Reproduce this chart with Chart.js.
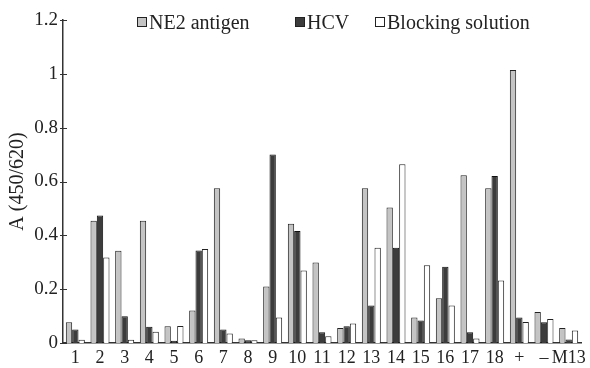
<!DOCTYPE html>
<html lang="en">
<head>
    <meta charset="UTF-8">
    <title>A (450/620)</title>
    <script src="https://cdn.jsdelivr.net/npm/chart.js"></script>
    <style>
        body {
            margin: 0;
            background: #fff;
        }

        #chart-container {
            width: 590px;
            height: 368px;
        }
    </style>
</head>
<body>
    <div id="chart-container">
        <canvas id="elisaChart"></canvas>
    </div>

    <script>
        const labels = ['1', '2', '3', '4', '5', '6', '7', '8', '9', '10', '11', '12', '13', '14', '15', '16', '17', '18', '+', '–', 'M13'];
        const ne2Antigen = [0.077, 0.454, 0.343, 0.454, 0.062, 0.121, 0.575, 0.017, 0.21, 0.443, 0.299, 0.056, 0.575, 0.503, 0.095, 0.166, 0.623, 0.575, 1.014, 0.115, 0.056];
        const hcv = [0.05, 0.474, 0.099, 0.06, 0.008, 0.344, 0.05, 0.01, 0.70, 0.416, 0.04, 0.062, 0.139, 0.354, 0.084, 0.283, 0.04, 0.62, 0.095, 0.077, 0.013];
        const blocking = [0.012, 0.318, 0.012, 0.042, 0.063, 0.349, 0.035, 0.01, 0.095, 0.269, 0.025, 0.072, 0.354, 0.664, 0.289, 0.139, 0.017, 0.232, 0.078, 0.089, 0.046];
        const yTicks = [0, 0.2, 0.4, 0.6, 0.8, 1, 1.2];

        const serif = 'Liberation Serif';
        const legendX = [137, 295, 375]; // 凡例の各項目の左端

        // 軸をまたぐ短い目盛り線
        const axisTicks = {
            id: 'axisTicks',
            afterDraw(chart) {
                const ctx = chart.ctx;
                const y = chart.scales.y;
                const left = chart.chartArea.left;
                ctx.save();
                ctx.strokeStyle = '#333';
                ctx.lineWidth = 1;
                yTicks.forEach(v => {
                    const py = Math.round(y.getPixelForValue(v)) + 0.5;
                    ctx.beginPath();
                    ctx.moveTo(left - 3, py);
                    ctx.lineTo(left + 4, py);
                    ctx.stroke();
                });
                ctx.restore();
            }
        };

        // グラフ内の横並び凡例
        const insideLegend = {
            id: 'insideLegend',
            afterDraw(chart) {
                const ctx = chart.ctx;
                ctx.save();
                ctx.font = '20px "' + serif + '"';
                ctx.textBaseline = 'alphabetic';
                chart.data.datasets.forEach((ds, i) => {
                    const x = legendX[i];
                    ctx.fillStyle = ds.backgroundColor;
                    ctx.fillRect(x, 17, 10, 10);
                    ctx.strokeStyle = '#222';
                    ctx.lineWidth = 1;
                    ctx.strokeRect(x + 0.5, 17.5, 9, 9);
                    ctx.fillStyle = '#222';
                    ctx.fillText(ds.label, x + 12, 29);
                });
                ctx.restore();
            }
        };

        new Chart(document.getElementById('elisaChart'), {
            type: 'bar',
            data: {
                labels: labels,
                datasets: [{
                    label: 'NE2 antigen',
                    data: ne2Antigen,
                    backgroundColor: '#c4c4c4',
                    borderColor: '#222',
                    borderWidth: 1
                }, {
                    label: 'HCV',
                    data: hcv,
                    backgroundColor: '#3c3c3c',
                    borderColor: '#111',
                    borderWidth: 1
                }, {
                    label: 'Blocking solution',
                    data: blocking,
                    backgroundColor: '#ffffff',
                    borderColor: '#222',
                    borderWidth: 1
                }]
            },
            options: {
                responsive: true,
                maintainAspectRatio: false,
                animation: false,
                layout: {
                    padding: { top: 20, right: 9, left: 6, bottom: 0 }
                },
                datasets: {
                    bar: {
                        barPercentage: 1,
                        categoryPercentage: 0.77
                    }
                },
                scales: {
                    x: {
                        grid: { display: false, drawTicks: false },
                        border: { display: true, color: '#333', width: 1.5 },
                        ticks: {
                            color: '#222',
                            padding: 4,
                            maxRotation: 0,
                            autoSkip: false,
                            font: { family: serif, size: 18 }
                        },
                        afterFit(scale) {
                            scale.height = 25;
                        }
                    },
                    y: {
                        min: 0,
                        max: 1.2,
                        afterBuildTicks(scale) {
                            scale.ticks = yTicks.map(v => ({ value: v }));
                        },
                        grid: { display: false, drawTicks: false },
                        border: { display: true, color: '#333', width: 1.5 },
                        ticks: {
                            color: '#222',
                            padding: 5,
                            font: { family: serif, size: 19 },
                            callback: v => String(v)
                        },
                        title: {
                            display: true,
                            text: 'A (450/620)',
                            color: '#222',
                            padding: 0,
                            font: { family: serif, size: 20 }
                        },
                        afterFit(scale) {
                            scale.width = 57;
                        }
                    }
                },
                plugins: {
                    legend: { display: false },
                    tooltip: { enabled: false }
                }
            },
            plugins: [axisTicks, insideLegend]
        });
    </script>
</body>
</html>
